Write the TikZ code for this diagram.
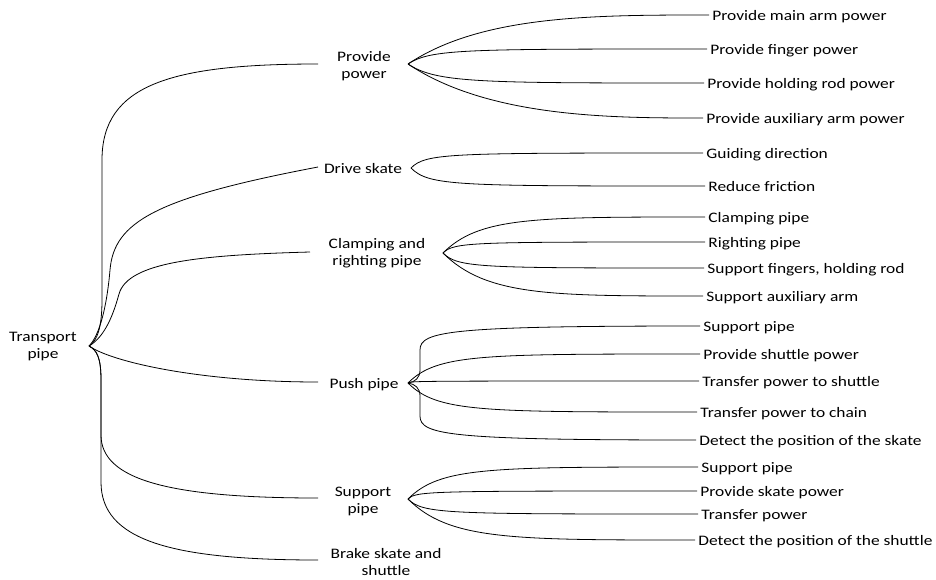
\documentclass[tikz,border=0pt]{standalone}
\usepackage{fontspec}
\setmainfont{Carlito}[FakeStretch=1.2]
\usetikzlibrary{calc}

% smooth branch from a fork point to a leaf: leaves at an angle, ends flat
\newcommand\leafcurve[4]{%
  \draw let \p1=(#1), \p2=(#2), \n1={abs(\y2-\y1)} in
    (\p1) .. controls ({\x1+#3*\n1},\y2) and ({\x1+#4*\n1},\y2) .. (\p2);}

\begin{document}
\begin{tikzpicture}[x=1pt,y=-1pt,line width=0.8pt,
  txt/.style={font=\fontsize{14.5}{17}\selectfont},
  lbl/.style={txt,align=center,inner sep=0pt,yshift=-1.5pt},
  leaf/.style={txt,anchor=west,inner xsep=3pt,inner ysep=0pt,
    text height=13.5pt,text depth=3.5pt}]
\useasboundingbox (0,0) rectangle (936,579);

% root
\node[lbl] (tp) at (43,345) {Transport\\pipe};
\coordinate (tp-o) at (89,346);

% first level
\node[lbl] (pp) at (364,65) {Provide\\power};
\coordinate (pp-i) at (318,64); \coordinate (pp-o) at (408,64);
\node[lbl] (ds) at (363,167) {Drive skate};
\coordinate (ds-i) at (318,167); \coordinate (ds-o) at (411,168);
\node[lbl] (cr) at (377,252) {Clamping and\\righting pipe};
\coordinate (cr-i) at (310,252); \coordinate (cr-o) at (443,253);
\node[lbl] (pu) at (364,383) {Push pipe};
\coordinate (pu-i) at (318,382); \coordinate (pu-o) at (408,383);
\node[lbl] (sp) at (363,500) {Support\\pipe};
\coordinate (sp-i) at (318,498); \coordinate (sp-o) at (408,499);
\node[lbl] (br) at (386,561) {Brake skate and\\shuttle};
\coordinate (br-i) at (318,560);

% root connectors
\draw (tp-o) .. controls (97,341) and (102,328) .. (102,300) -- (102,160)
  .. controls (102,85) and (170,64) .. (pp-i);
\draw (tp-o) .. controls (100,335) and (107,305) .. (110,270)
  .. controls (114,222) and (155,198) .. (ds-i);
\draw (tp-o) .. controls (106,336) and (114,312) .. (119,294)
  .. controls (128,262) and (200,255) .. (cr-i);
\draw (tp-o) .. controls (112,362) and (200,382) .. (pu-i);
\draw (tp-o) .. controls (97,350) and (101,358) .. (101,380) -- (101,435)
  .. controls (101,480) and (170,498) .. (sp-i);
\draw (tp-o) .. controls (97,350) and (101,358) .. (101,380) -- (101,482)
  .. controls (101,540) and (170,560) .. (br-i);

% Provide power
\node[leaf] (p1) at (709,15) {Provide main arm power};
\node[leaf] (p2) at (707,49) {Provide finger power};
\node[leaf] (p3) at (704,83) {Provide holding rod power};
\node[leaf] (p4) at (703,118) {Provide auxiliary arm power};
\foreach \lf in {p1,p2,p3,p4} {\leafcurve{pp-o}{\lf.west}{1.5}{3.8}}

% Drive skate
\node[leaf] (d1) at (703,153) {Guiding direction};
\node[leaf] (d2) at (705,186) {Reduce friction};
\foreach \lf in {d1,d2} {\leafcurve{ds-o}{\lf.west}{1}{2.5}}

% Clamping and righting pipe
\node[leaf] (c1) at (705,217) {Clamping pipe};
\node[leaf] (c2) at (705,242) {Righting pipe};
\node[leaf] (c3) at (704,268) {Support fingers, holding rod};
\node[leaf] (c4) at (703,296) {Support auxiliary arm};
\foreach \lf in {c1,c2,c3,c4} {\leafcurve{cr-o}{\lf.west}{1}{2.5}}

% Push pipe
\node[leaf] (u1) at (700,326) {Support pipe};
\node[leaf] (u2) at (700,354) {Provide shuttle power};
\node[leaf] (u3) at (699,381) {Transfer power to shuttle};
\node[leaf] (u4) at (697,412) {Transfer power to chain};
\node[leaf] (u5) at (696,440) {Detect the position of the skate};
\draw (pu-o) .. controls (415,382) and (420,378) .. (420,370) -- (420,350)
  .. controls (420,331) and (450,326) .. (u1.west);
\draw (pu-o) .. controls (415,384) and (420,388) .. (420,396) -- (420,416)
  .. controls (420,435) and (450,440) .. (u5.west);
\foreach \lf in {u2,u3,u4} {\leafcurve{pu-o}{\lf.west}{1}{2.5}}

% Support pipe
\node[leaf] (s1) at (698,467) {Support pipe};
\node[leaf] (s2) at (697,491) {Provide skate power};
\node[leaf] (s3) at (698,514) {Transfer power};
\node[leaf] (s4) at (695,540) {Detect the position of the shuttle};
\foreach \lf in {s1,s2,s3,s4} {\leafcurve{sp-o}{\lf.west}{1}{2.5}}
\end{tikzpicture}
\end{document}
